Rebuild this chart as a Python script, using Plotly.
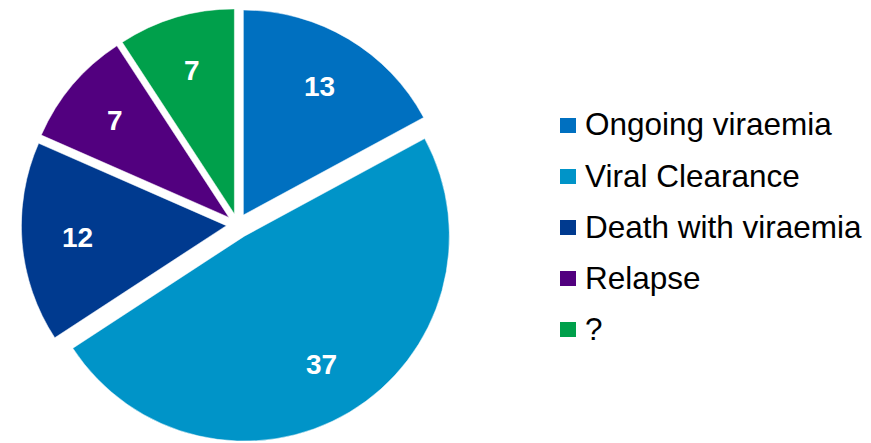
import math
import plotly.graph_objects as go

labels = ["Ongoing viraemia", "Viral Clearance", "Death with viraemia", "Relapse", "?"]
values = [13, 37, 12, 7, 7]
colors = ["#0070C0", "#0094C8", "#003A8F", "#52007F", "#00A04B"]
pulls = [0.055, 0.065, 0.055, 0.055, 0.055]

W, H = 871, 443
# pie domain (pixels)
cx_px, dom_px = 237.6, 436.6
x0 = (cx_px - dom_px / 2) / W
x1 = (cx_px + dom_px / 2) / W
y1 = dom_px / H
cy_px = H - dom_px / 2
R = (dom_px / 2) / (1 + max(pulls))

fig = go.Figure()
fig.add_trace(go.Pie(
    labels=labels, values=values, sort=False, direction="clockwise", rotation=0,
    marker=dict(colors=colors, line=dict(color="white", width=0.5)),
    pull=pulls, textinfo="none", hoverinfo="label+value", showlegend=False,
    domain=dict(x=[x0, x1], y=[0, y1]),
))

# value labels, positioned from the cumulative values
total = sum(values)
cum = 0
annotations = []
for v, p in zip(values, pulls):
    mid = (cum + v / 2) / total * 2 * math.pi
    cum += v
    rr = R * (p + 0.73)
    px = cx_px + rr * math.sin(mid)
    py = cy_px - rr * math.cos(mid)
    annotations.append(dict(
        x=px / W, y=1 - py / H, xref="paper", yref="paper", text=str(v),
        showarrow=False, xanchor="center", yanchor="middle",
        font=dict(family="Liberation Sans, Arial, sans-serif", size=28, color="white", weight="bold"),
    ))

# legend drawn as squares + text
shapes = []
leg_top, leg_step = 125.5, 51.0
for i, (lab, col) in enumerate(zip(labels, colors)):
    yc = leg_top + i * leg_step
    shapes.append(dict(type="rect", xref="paper", yref="paper",
                       x0=560 / W, x1=576 / W, y0=1 - (yc + 7.5) / H, y1=1 - (yc - 7.5) / H,
                       fillcolor=col, line=dict(width=0)))
    annotations.append(dict(
        x=583 / W, y=1 - (yc - 1) / H, xref="paper", yref="paper", text=lab,
        showarrow=False, xanchor="left", yanchor="middle",
        font=dict(family="Liberation Sans, Arial, sans-serif", size=31.5, color="black"),
    ))

fig.update_layout(
    width=W, height=H, margin=dict(l=0, r=0, t=0, b=0),
    paper_bgcolor="white", plot_bgcolor="white",
    annotations=annotations, shapes=shapes,
)
fig.write_html(
    "out.html",
    config={"displayModeBar": False},
    post_script="document.body.style.margin='0';document.body.style.overflow='hidden';",
)
